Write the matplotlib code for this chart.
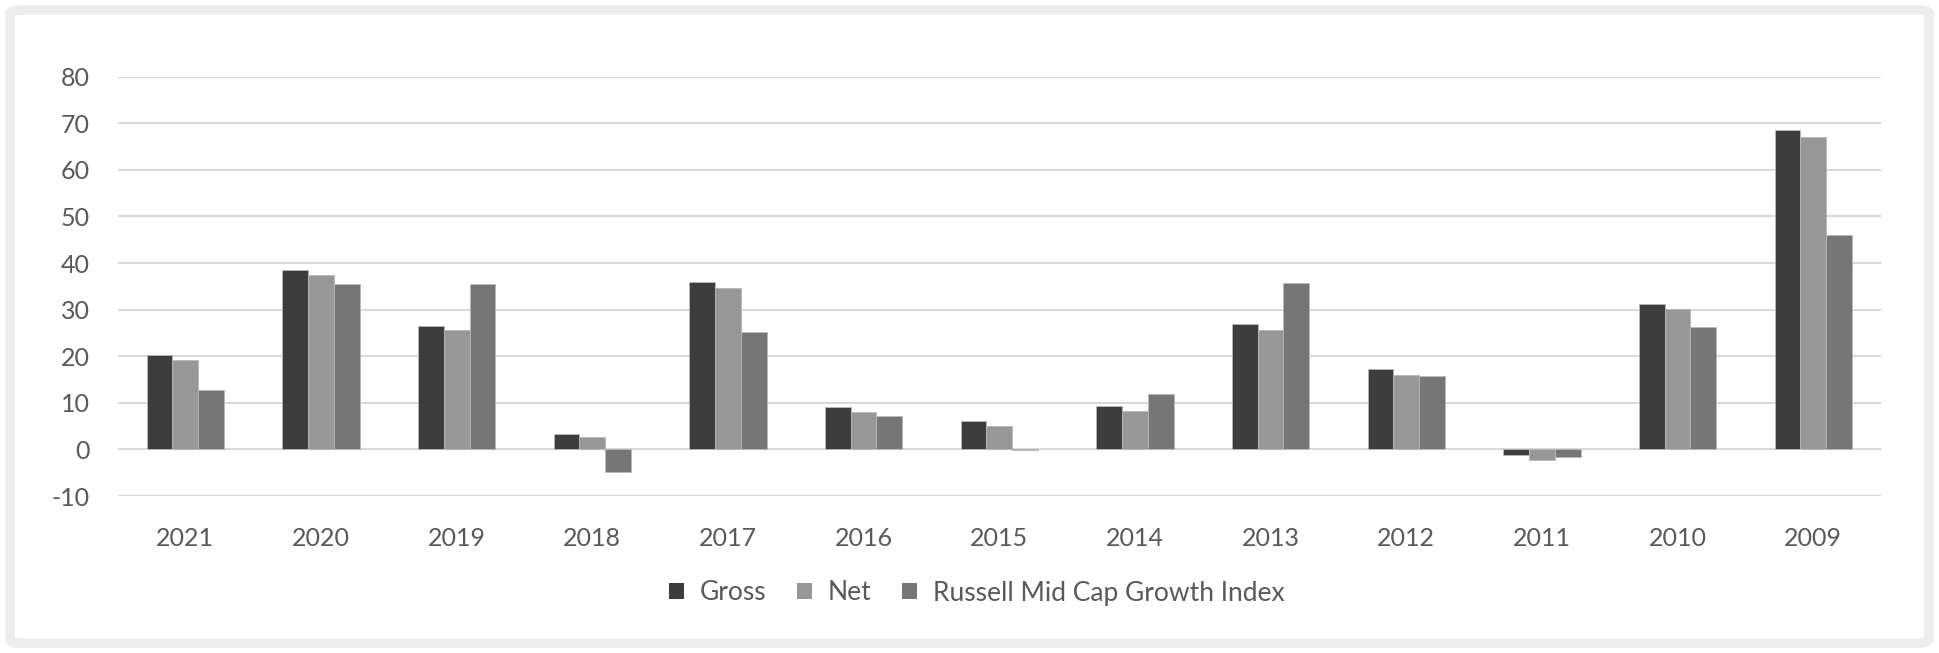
import matplotlib
matplotlib.use("Agg")
import matplotlib.pyplot as plt
from matplotlib.patches import FancyBboxPatch, Patch
import numpy as np

plt.rcParams["font.family"] = ["Lato", "DejaVu Sans"]
plt.rcParams["axes.unicode_minus"] = False

years = ["2021", "2020", "2019", "2018", "2017", "2016", "2015",
         "2014", "2013", "2012", "2011", "2010", "2009"]
gross = [20.2, 38.6, 26.5, 3.4, 36.0, 9.1, 6.0, 9.3, 26.9, 17.2, -1.3, 31.2, 68.6]
net = [19.2, 37.5, 25.6, 2.7, 34.7, 8.0, 5.0, 8.2, 25.6, 16.0, -2.3, 30.1, 67.1]
russell = [12.7, 35.6, 35.5, -4.8, 25.2, 7.2, -0.2, 11.8, 35.7, 15.8, -1.7, 26.2, 46.1]

series = [
    ("Gross", gross, "#3d3d3d"),
    ("Net", net, "#979797"),
    ("Russell Mid Cap Growth Index", russell, "#767676"),
]

W, H = 1939, 653
fig = plt.figure(figsize=(W / 100, H / 100), dpi=100)

# light grey rounded frame round the whole chart
frame = FancyBboxPatch((10 / W, 10 / H), 1 - 20 / W, 1 - 20 / H,
                       boxstyle="round,pad=0,rounding_size=0.006",
                       transform=fig.transFigure, facecolor="none",
                       edgecolor="#ededed", linewidth=7, zorder=-1)
fig.patches.append(frame)

ax = fig.add_axes([117.5 / W, 1 - 496 / H, (1881 - 117.5) / W, (496 - 76.7) / H])
ax.set_facecolor("none")

x = np.arange(len(years))
width = 0.19
for i, (name, vals, color) in enumerate(series):
    ax.bar(x + (i - 1) * width, vals, width=width, color=color,
           edgecolor="#b8b8b8", linewidth=0.6, label=name, zorder=3)

ax.set_xlim(-0.5, len(years) - 0.5)
ax.set_ylim(-10, 80)
ax.set_yticks(range(-10, 81, 10))
ax.set_xticks(x)
ax.set_xticklabels(years)
ax.yaxis.grid(True, color="#d9d9d9", linewidth=1.5, zorder=0)
ax.set_axisbelow(True)
for s in ax.spines.values():
    s.set_visible(False)
ax.tick_params(axis="both", length=0, labelsize=18, labelcolor="#595959")
ax.tick_params(axis="y", pad=20)
ax.tick_params(axis="x", pad=22)

handles = [Patch(facecolor=c, edgecolor="none") for _, _, c in series]
fig.legend(handles, [n for n, _, _ in series], loc="center",
           bbox_to_anchor=(977 / W, 1 - 593 / H), ncol=3, frameon=False,
           fontsize=19, labelcolor="#595959", handlelength=0.57,
           handleheight=0.57, handletextpad=0.6, columnspacing=1.15)

fig.savefig("out.png", dpi=100)
